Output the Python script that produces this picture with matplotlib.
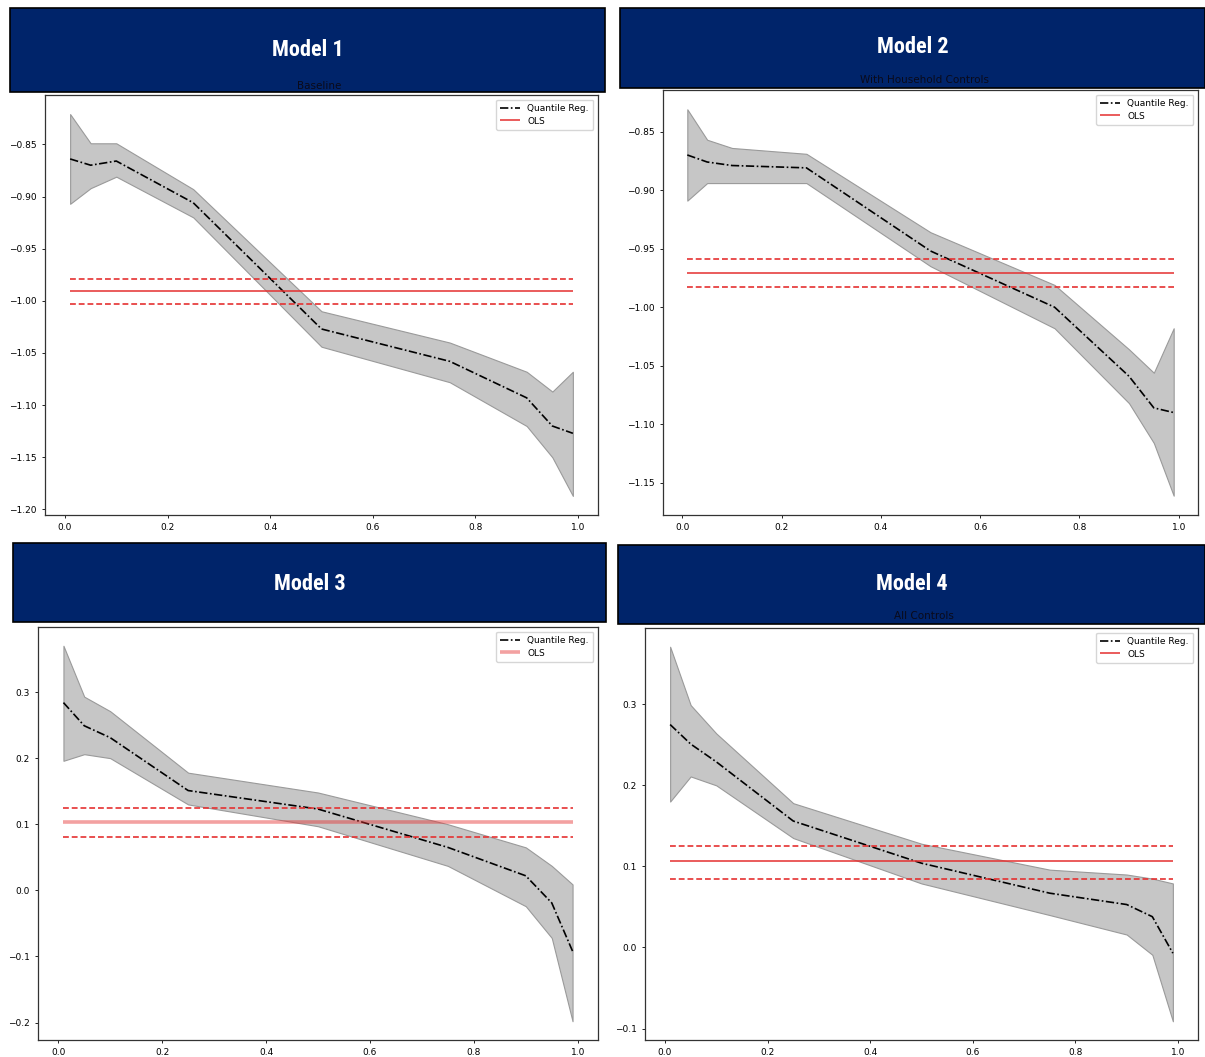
import matplotlib
matplotlib.use("Agg")
import matplotlib.pyplot as plt
from matplotlib.patches import Rectangle
from matplotlib.ticker import MultipleLocator

# quantiles used in every model
quantiles = [0.01, 0.05, 0.1, 0.25, 0.5, 0.75, 0.9, 0.95, 0.99]

# Model 1 - Baseline
m1_coef = [-0.864, -0.870, -0.866, -0.906, -1.027, -1.058, -1.093, -1.120, -1.127]
m1_upper = [-0.821, -0.849, -0.849, -0.893, -1.010, -1.040, -1.068, -1.087, -1.068]
m1_lower = [-0.907, -0.892, -0.881, -0.920, -1.044, -1.078, -1.120, -1.150, -1.187]
m1_ols = [-0.991, -1.003, -0.979]

# Model 2 - With Household Controls
m2_coef = [-0.870, -0.876, -0.879, -0.881, -0.952, -1.000, -1.059, -1.086, -1.090]
m2_upper = [-0.831, -0.857, -0.864, -0.869, -0.936, -0.981, -1.036, -1.056, -1.018]
m2_lower = [-0.909, -0.894, -0.894, -0.894, -0.965, -1.018, -1.082, -1.116, -1.161]
m2_ols = [-0.971, -0.983, -0.959]

# Model 3
m3_coef = [0.284, 0.249, 0.231, 0.151, 0.123, 0.065, 0.022, -0.019, -0.092]
m3_upper = [0.370, 0.293, 0.271, 0.178, 0.148, 0.100, 0.065, 0.037, 0.009]
m3_lower = [0.196, 0.206, 0.200, 0.130, 0.097, 0.037, -0.024, -0.072, -0.198]
m3_ols = [0.103, 0.080, 0.124]

# Model 4 - All Controls
m4_coef = [0.275, 0.251, 0.229, 0.156, 0.104, 0.067, 0.053, 0.038, -0.007]
m4_upper = [0.371, 0.299, 0.264, 0.178, 0.128, 0.096, 0.090, 0.085, 0.079]
m4_lower = [0.180, 0.211, 0.200, 0.135, 0.079, 0.040, 0.016, -0.009, -0.091]
m4_ols = [0.107, 0.085, 0.125]

titles = ["Model 1", "Model 2", "Model 3", "Model 4"]
subtitles = ["Baseline", "With Household Controls", "", "All Controls"]
ytick_steps = [0.05, 0.05, 0.1, 0.1]

NAVY = "#00246a"
W, H = 1205, 1057


def px_rect(x0, y0, x1, y1):
    # pixel box (top-left origin) -> figure fraction [l, b, w, h]
    return [x0 / W, 1 - y1 / H, (x1 - x0) / W, (y1 - y0) / H]


axes_boxes = [(45, 95, 598, 515), (663, 90, 1198, 515),
              (38, 627, 598, 1040), (645, 628, 1198, 1040)]
banner_boxes = [(10, 8, 605, 92), (620, 8, 1205, 88),
                (13, 543, 606, 622), (618, 545, 1205, 624)]
title_y = [50, 47, 584, 584]
subtitle_y = [86, 80, 620, 616]
ols_alpha = [0.85, 0.85, 0.45, 0.85]
ols_width = [1.3, 1.3, 2.6, 1.3]

models = [(m1_coef, m1_upper, m1_lower, m1_ols),
          (m2_coef, m2_upper, m2_lower, m2_ols),
          (m3_coef, m3_upper, m3_lower, m3_ols),
          (m4_coef, m4_upper, m4_lower, m4_ols)]

fig = plt.figure(figsize=(W / 100, H / 100), dpi=100)
title_font = ["Roboto Condensed", "Liberation Sans Narrow", "Open Sans", "DejaVu Sans"]

for i, (coef, upper, lower, ols) in enumerate(models):
    ax = fig.add_axes(px_rect(*axes_boxes[i]))
    ax.fill_between(quantiles, lower, upper, facecolor="#c6c6c6",
                    edgecolor="#9a9a9a", linewidth=0.8)
    ax.plot(quantiles, coef, color="black", linestyle=(0, (5, 1.5, 1, 1.5)),
            linewidth=1.2, label="Quantile Reg.")
    ax.hlines(ols[0], quantiles[0], quantiles[-1], color="#e53030",
              alpha=ols_alpha[i], linewidth=ols_width[i], label="OLS")
    ax.hlines(ols[1], quantiles[0], quantiles[-1], color="#e53030",
              alpha=0.85, linewidth=1.4, linestyles=(0, (3, 1.5)))
    ax.hlines(ols[2], quantiles[0], quantiles[-1], color="#e53030",
              alpha=0.85, linewidth=1.4, linestyles=(0, (3, 1.5)))
    ax.yaxis.set_major_locator(MultipleLocator(ytick_steps[i]))
    ax.set_xticks([0.0, 0.2, 0.4, 0.6, 0.8, 1.0])
    ax.tick_params(labelsize=6.5, length=2.5, width=0.6)
    for s in ax.spines.values():
        s.set_linewidth(0.9)
        s.set_color("#333333")
    ax.legend(loc="upper right", fontsize=6.5, handlelength=2.2,
              borderpad=0.5, labelspacing=0.4)

    # navy banner with model title
    bx0, by0, bx1, by1 = banner_boxes[i]
    l, b, w, h = px_rect(bx0, by0, bx1, by1)
    fig.patches.append(Rectangle((l, b), w, h, transform=fig.transFigure,
                                 facecolor=NAVY, edgecolor="black",
                                 linewidth=1.2, zorder=5))
    fig.text(l + w / 2, 1 - title_y[i] / H, titles[i], color="white",
             fontsize=16, fontweight="bold", family=title_font,
             ha="center", va="center", zorder=6)
    if subtitles[i]:
        fig.text(l + w / 2 + 12 / W, 1 - subtitle_y[i] / H, subtitles[i],
                 color="#0a0a1a", fontsize=7.5, ha="center", va="center",
                 zorder=6)

fig.savefig("out.png", dpi=100)
